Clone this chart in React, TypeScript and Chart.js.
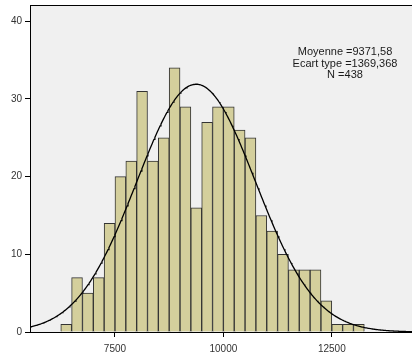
import { useEffect, useRef } from 'react';
import { Chart, registerables } from 'chart.js';

Chart.register(...registerables);

// Histogram bins (lower edge of each 250-wide class) and their frequencies
const BIN_WIDTH = 250;
const BIN_STARTS = [
  6250, 6500, 6750, 7000, 7250, 7500, 7750, 8000, 8250, 8500, 8750, 9000, 9250, 9500,
  9750, 10000, 10250, 10500, 10750, 11000, 11250, 11500, 11750, 12000, 12250, 12500, 12750, 13000,
];
const COUNTS = [
  1, 7, 5, 7, 14, 20, 22, 31, 22, 25, 34, 29, 16, 27,
  29, 29, 26, 25, 15, 13, 10, 8, 8, 8, 4, 1, 1, 1,
];

// Summary statistics used for the fitted normal curve
const MEAN = 9371.58;
const SD = 1369.368;
const N = 438;
const STATS_LINES = ['Moyenne =9371,58', 'Ecart type =1369,368', 'N =438'];

// Axis ranges and tick labels
const X_MIN = 5540;
const X_MAX = 14350;
const Y_MAX = 42.1;
const X_TICKS = [7500, 10000, 12500];
const Y_TICKS = [0, 10, 20, 30, 40];

const FONT = "'Liberation Sans', Arial, sans-serif";

function normalCurve() {
  const pts: { x: number; y: number }[] = [];
  const scale = (N * BIN_WIDTH) / (SD * Math.sqrt(2 * Math.PI));
  for (let x = X_MIN; x <= X_MAX + 20; x += 20) {
    const z = (x - MEAN) / SD;
    pts.push({ x, y: scale * Math.exp(-0.5 * z * z) });
  }
  return pts;
}

const frame = {
  id: 'frame',
  beforeDraw(chart: any) {
    const { ctx, chartArea: a } = chart;
    ctx.save();
    ctx.fillStyle = '#f0f0f0';
    ctx.fillRect(a.left, a.top, a.right - a.left, a.bottom - a.top);
    ctx.restore();
  },
  afterDraw(chart: any) {
    const { ctx, chartArea: a } = chart;
    ctx.save();
    ctx.strokeStyle = '#000';
    ctx.lineWidth = 1;
    ctx.beginPath();
    ctx.moveTo(a.left, a.top + 0.5);
    ctx.lineTo(a.right, a.top + 0.5);
    ctx.stroke();
    // statistics box
    ctx.fillStyle = '#1a1a1a';
    ctx.font = `11px ${FONT}`;
    ctx.textAlign = 'center';
    ctx.textBaseline = 'middle';
    const cx = a.right - 67;
    STATS_LINES.forEach((s, i) => ctx.fillText(s, cx, a.top + 47 + i * 11.5));
    ctx.restore();
  },
};

export default function App() {
  const ref = useRef<HTMLCanvasElement>(null);

  useEffect(() => {
    if (!ref.current) return;
    const chart = new Chart(ref.current, {
      type: 'bar',
      data: {
        datasets: [
          {
            type: 'line',
            data: normalCurve(),
            borderColor: '#000',
            borderWidth: 1.3,
            pointRadius: 0,
            fill: false,
            tension: 0,
            order: 0,
          } as any,
          {
            type: 'bar',
            data: BIN_STARTS.map((s, i) => ({ x: s + BIN_WIDTH / 2, y: COUNTS[i] })),
            backgroundColor: '#d4cf9c',
            borderColor: '#333',
            borderWidth: 1,
            barPercentage: 1,
            categoryPercentage: 1,
            order: 1,
          },
        ],
      },
      options: {
        responsive: false,
        animation: false,
        devicePixelRatio: 1,
        layout: { padding: { top: 5, left: 0, right: 0, bottom: 0 } },
        plugins: { legend: { display: false }, tooltip: { enabled: false } },
        scales: {
          x: {
            type: 'linear',
            min: X_MIN,
            max: X_MAX,
            offset: false,
            grid: {
              display: true,
              offset: false,
              drawOnChartArea: false,
              drawTicks: true,
              tickLength: 5,
              tickColor: '#000',
              color: '#000',
            },
            border: { display: true, color: '#000', width: 1 },
            ticks: {
              color: '#333',
              font: { family: FONT, size: 10 },
              padding: 6,
              maxRotation: 0,
              callback: (v: any) => String(v),
            },
            afterBuildTicks: (s: any) => {
              s.ticks = X_TICKS.map((value) => ({ value }));
            },
            afterFit: (s: any) => {
              s.height = 26;
              s.paddingLeft = 0;
              s.paddingRight = 0;
            },
          },
          y: {
            min: 0,
            max: Y_MAX,
            grid: {
              display: true,
              drawOnChartArea: false,
              drawTicks: true,
              tickLength: 5,
              tickColor: '#000',
              color: '#000',
            },
            border: { display: true, color: '#000', width: 1 },
            ticks: {
              color: '#333',
              font: { family: FONT, size: 10 },
              padding: 3,
              callback: (v: any) => String(v),
            },
            afterBuildTicks: (s: any) => {
              s.ticks = Y_TICKS.map((value) => ({ value }));
            },
            afterFit: (s: any) => {
              s.width = 30;
              s.paddingTop = 0;
              s.paddingBottom = 0;
            },
          },
        },
      },
      plugins: [frame],
    });
    return () => chart.destroy();
  }, []);

  return (
    <div style={{ position: 'fixed', left: 0, top: 0, width: 412, height: 358, background: '#fff' }}>
      <canvas ref={ref} width={412} height={358} style={{ display: 'block' }} />
    </div>
  );
}
